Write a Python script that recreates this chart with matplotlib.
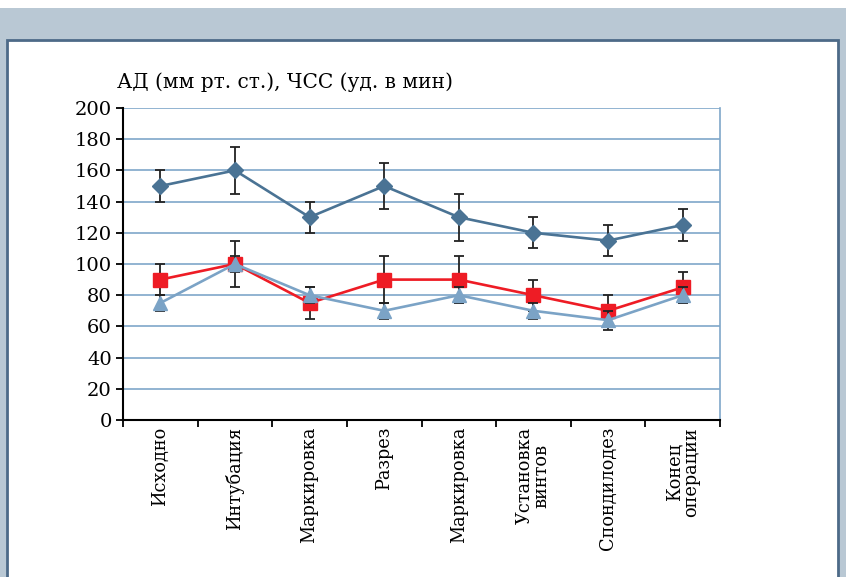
import matplotlib.pyplot as plt
from matplotlib.patches import Rectangle

plt.rcParams['font.family'] = ['DejaVu Serif']

stages = ["Исходно", "Интубация", "Маркировка", "Разрез", "Маркировка",
          "Установка\nвинтов", "Спондилодез", "Конец\nоперации"]

# blue diamonds
ad_sys = [150, 160, 130, 150, 130, 120, 115, 125]
ad_sys_err = [10, 15, 10, 15, 15, 10, 10, 10]
# red squares
ad_mid = [90, 100, 75, 90, 90, 80, 70, 85]
ad_mid_err = [10, 15, 10, 15, 15, 10, 10, 10]
# light blue triangles
hr = [75, 100, 80, 70, 80, 70, 64, 80]
hr_err = [5, 5, 5, 5, 5, 5, 6, 5]

y_ticks = [0, 20, 40, 60, 80, 100, 120, 140, 160, 180, 200]

fig = plt.figure(figsize=(8.46, 5.77), dpi=100, facecolor="white")

# framed panel background
fig.patches.append(Rectangle((0, 0), 1, 1 - 8 / 577, transform=fig.transFigure,
                             facecolor="#b9c8d4", edgecolor="none", zorder=-3))
fig.patches.append(Rectangle((7 / 846, -0.01), (838 - 7) / 846, (537 + 6) / 577,
                             transform=fig.transFigure, facecolor="white",
                             edgecolor="#4d6a88", linewidth=2, zorder=-2))

ax = fig.add_axes([123 / 846, 1 - 420 / 577, (720 - 123) / 846, (420 - 108) / 577])
ax.set_facecolor("none")

x = list(range(len(stages)))
series = [
    (ad_sys, ad_sys_err, "#4a7394", "D", 8.5),
    (ad_mid, ad_mid_err, "#ee1c25", "s", 9.5),
    (hr, hr_err, "#7ba3c6", "^", 10),
]
for i, (vals, errs, col, mk, ms) in enumerate(series):
    ax.errorbar(x, vals, yerr=errs, fmt="none", ecolor="#222222",
                elinewidth=1.3, capsize=3.5, capthick=1.3, zorder=2 + i)
    ax.plot(x, vals, color=col, marker=mk, markersize=ms, linewidth=1.9,
            zorder=3 + i)

ax.set_xlim(-0.5, len(stages) - 0.5)
ax.set_ylim(0, 200)
ax.set_yticks(y_ticks)
ax.yaxis.grid(True, color="#7fa7c9", linewidth=1.2)
ax.set_axisbelow(True)

ax.set_xticks(x)
ax.set_xticklabels(stages, rotation=90, fontsize=12.8, va="top", ha="center",
                   linespacing=0.9)
ax.set_xticks([i - 0.5 for i in range(len(stages) + 1)], minor=True)
ax.tick_params(axis="x", which="major", length=0, pad=5)
ax.tick_params(axis="x", which="minor", length=5, width=1.3, direction="out")
ax.tick_params(axis="y", length=5, width=1.3, labelsize=14, pad=3)

for s in ["left", "bottom"]:
    ax.spines[s].set_color("black")
    ax.spines[s].set_linewidth(1.5)
ax.spines["right"].set_color("#7fa7c9")
ax.spines["right"].set_linewidth(1.2)
ax.spines["top"].set_visible(False)

fig.text(117 / 846, 1 - 82 / 577, "АД (мм рт. ст.), ЧСС (уд. в мин)",
         fontsize=14.5, va="center", ha="left")

fig.savefig("out.png", dpi=100, facecolor="white")
